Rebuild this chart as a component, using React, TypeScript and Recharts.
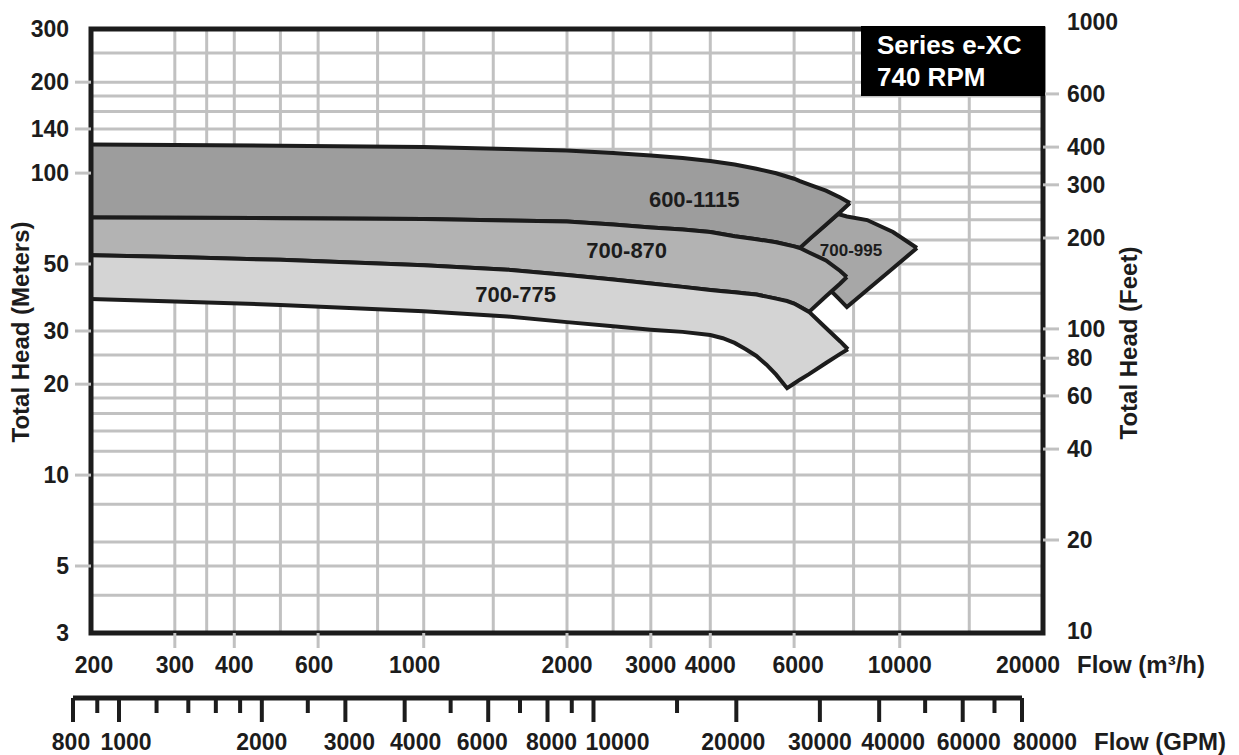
import React from "react";
import {
  Area,
  CartesianGrid,
  ComposedChart,
  Line,
  ReferenceArea,
  ReferenceDot,
  XAxis,
  YAxis,
} from "recharts";

const FONT = "'Liberation Sans', Arial, Helvetica, sans-serif";
const INK = "#1c1c1c";
const GRID = "#c1c1c1";
const M_TO_FT = 1 / 0.3048;

// axis ticks
const flowTicks = [200, 300, 400, 600, 1000, 2000, 3000, 4000, 6000, 10000, 20000];
const headTicksM = [3, 5, 10, 20, 30, 50, 100, 140, 200, 300];
const headTicksFt = [10, 20, 40, 60, 80, 100, 200, 300, 400, 600, 1000];
const gpmMajor = [800, 1000, 2000, 3000, 4000, 6000, 8000, 10000, 20000, 30000, 40000, 60000, 80000];
const gpmMinor = [900, 1200, 1400, 1600, 1800, 2500, 5000, 7000, 9000, 15000, 50000, 70000];

// grid lines
const gridFlow = [300, 350, 400, 500, 600, 800, 1000, 1400, 2000, 2500, 3000, 4000, 6000, 8000, 10000, 14000];
const gridHead = [4, 5, 6, 8, 10, 12, 14, 16, 18, 20, 25, 30, 40, 50, 60, 70, 80, 90, 100, 120, 140, 160, 180, 200, 250];

// pump bands: flow (m3/h), head lower / upper edge (m)
const band600_1115 = [
  { q: 200, lo: 71.3, hi: 124.4 },
  { q: 300, lo: 71.1, hi: 123.9 },
  { q: 500, lo: 70.9, hi: 123.2 },
  { q: 1000, lo: 70.5, hi: 122.0 },
  { q: 1500, lo: 69.7, hi: 120.2 },
  { q: 2000, lo: 69.1, hi: 118.8 },
  { q: 2500, lo: 67.6, hi: 116.6 },
  { q: 3000, lo: 66.0, hi: 114.4 },
  { q: 3500, lo: 65.0, hi: 112.2 },
  { q: 4000, lo: 63.8, hi: 109.6 },
  { q: 4500, lo: 61.8, hi: 106.7 },
  { q: 5000, lo: 60.4, hi: 103.3 },
  { q: 5500, lo: 59.0, hi: 99.9 },
  { q: 6000, lo: 57.2, hi: 95.8 },
  { q: 6170, lo: 56.5, hi: 94.1 },
  { q: 6500, lo: 60.9, hi: 91.3 },
  { q: 7000, lo: 67.5, hi: 87.5 },
  { q: 7500, lo: 74.3, hi: 83.0 },
  { q: 7860, lo: 79.6, hi: 79.6 },
];

const band700_870 = [
  { q: 200, lo: 53.5, hi: 71.3 },
  { q: 300, lo: 52.7, hi: 71.1 },
  { q: 500, lo: 51.6, hi: 70.9 },
  { q: 1000, lo: 49.5, hi: 70.5 },
  { q: 1500, lo: 47.9, hi: 69.7 },
  { q: 2000, lo: 46.0, hi: 69.1 },
  { q: 2500, lo: 44.4, hi: 67.6 },
  { q: 3000, lo: 43.1, hi: 66.0 },
  { q: 3500, lo: 42.0, hi: 65.0 },
  { q: 4000, lo: 41.0, hi: 63.8 },
  { q: 4500, lo: 40.3, hi: 61.8 },
  { q: 5000, lo: 39.6, hi: 60.4 },
  { q: 5500, lo: 38.4, hi: 59.0 },
  { q: 6000, lo: 37.0, hi: 57.2 },
  { q: 6170, lo: 36.1, hi: 56.5 },
  { q: 6450, lo: 34.7, hi: 54.6 },
  { q: 7000, lo: 39.1, hi: 51.4 },
  { q: 7500, lo: 43.1, hi: 47.4 },
  { q: 7745, lo: 45.3, hi: 45.3 },
];

const band700_775 = [
  { q: 200, lo: 38.3, hi: 53.5 },
  { q: 300, lo: 37.6, hi: 52.7 },
  { q: 500, lo: 36.6, hi: 51.6 },
  { q: 1000, lo: 34.9, hi: 49.5 },
  { q: 1500, lo: 33.5, hi: 47.9 },
  { q: 2000, lo: 32.1, hi: 46.0 },
  { q: 2500, lo: 31.1, hi: 44.4 },
  { q: 3000, lo: 30.3, hi: 43.1 },
  { q: 3500, lo: 29.8, hi: 42.0 },
  { q: 4000, lo: 29.1, hi: 41.0 },
  { q: 4250, lo: 28.4, hi: 40.6 },
  { q: 4500, lo: 27.4, hi: 40.3 },
  { q: 4750, lo: 26.1, hi: 39.9 },
  { q: 5000, lo: 24.8, hi: 39.6 },
  { q: 5250, lo: 23.2, hi: 39.0 },
  { q: 5500, lo: 21.5, hi: 38.4 },
  { q: 5800, lo: 19.4, hi: 37.7 },
  { q: 6000, lo: 20.1, hi: 37.0 },
  { q: 6170, lo: 20.7, hi: 36.1 },
  { q: 6450, lo: 21.6, hi: 34.7 },
  { q: 7000, lo: 23.5, hi: 30.7 },
  { q: 7500, lo: 25.2, hi: 27.7 },
  { q: 7785, lo: 26.1, hi: 26.1 },
];

const band700_995 = [
  { q: 6170, lo: 51.6, hi: 56.9 },
  { q: 7420, lo: 38.6, hi: 73.2 },
  { q: 7745, lo: 36.0, hi: 71.8 },
  { q: 8540, lo: 41.0, hi: 69.9 },
  { q: 9680, lo: 48.4, hi: 63.8 },
  { q: 10870, lo: 56.5, hi: 56.5 },
];

const bandLabels = [
  { name: "600-1115", q: 3700, h: 82.2, size: 22 },
  { name: "700-870", q: 2670, h: 55.4, size: 22 },
  { name: "700-775", q: 1560, h: 39.6, size: 22 },
  { name: "700-995", q: 7900, h: 55.8, size: 17 },
];

const gpmSpan = [
  { g: 800, v: 0.5 },
  { g: 80000, v: 0.5 },
];

// hand-placed label nudges seen in the original
const flowLabelShift: Record<number, number> = { 200: 3, 600: -4, 1000: -9, 6000: 4, 20000: -15 };
const ftLabelShift: Record<number, number> = { 1000: -5 };
const gpmLabelShift: Record<number, number> = {
  800: -2, 1000: 7, 3000: 4, 4000: 11, 6000: -6, 8000: 4, 10000: 24, 20000: -3, 40000: 14, 60000: 6, 80000: 23,
};

const range = (d: any) => [d.lo, d.hi];

const textProps = { fontFamily: FONT, fontWeight: 700, fill: INK };
const TICK_FONT = 23;

const FlowTick = (props: any) => {
  const { x, y, payload } = props;
  const v = payload.value;
  const edge = v === flowTicks[0] || v === flowTicks[flowTicks.length - 1];
  return (
    <g>
      {!edge && <line x1={x} x2={x} y1={y} y2={y + 15} stroke={GRID} strokeWidth={3} />}
      <text x={x + (flowLabelShift[v] ?? 0)} y={y + 40} textAnchor="middle" fontSize={TICK_FONT} {...textProps}>
        {v}
      </text>
    </g>
  );
};

const HeadTickM = (props: any) => {
  const { x, y, payload } = props;
  const v = payload.value;
  const edge = v === headTicksM[0] || v === headTicksM[headTicksM.length - 1];
  return (
    <g>
      {!edge && <line x1={x - 16} x2={x} y1={y} y2={y} stroke={GRID} strokeWidth={3} />}
      <text x={x - 22} y={y + 8} textAnchor="end" fontSize={TICK_FONT} {...textProps}>
        {v}
      </text>
    </g>
  );
};

const HeadTickFt = (props: any) => {
  const { x, y, payload } = props;
  const v = payload.value;
  const edge = v === headTicksFt[0] || v === headTicksFt[headTicksFt.length - 1];
  return (
    <g>
      {!edge && <line x1={x} x2={x + 16} y1={y} y2={y} stroke={GRID} strokeWidth={3} />}
      <text x={x + 24} y={y + 8 + (ftLabelShift[v] ?? 0)} textAnchor="start" fontSize={TICK_FONT} {...textProps}>
        {v}
      </text>
    </g>
  );
};

const GpmTick = (props: any) => {
  const { x, y, payload } = props;
  const v = payload.value;
  const major = gpmMajor.includes(v);
  return (
    <g>
      <line x1={x} x2={x} y1={y} y2={y + (major ? 24 : 15)} stroke={INK} strokeWidth={4} />
      {major && (
        <text x={x + (gpmLabelShift[v] ?? 0)} y={y + 52} textAnchor="middle" fontSize={TICK_FONT} {...textProps}>
          {v}
        </text>
      )}
    </g>
  );
};

const bandStyle = { stroke: INK, strokeWidth: 4, fillOpacity: 1, type: "linear" as const };

const App = () => {
  const gpmTicks = [...gpmMajor, ...gpmMinor].sort((a, b) => a - b);

  return (
    <div style={{ position: "absolute", left: 0, top: 0, width: 1239, height: 755, background: "#fff" }}>
      <div style={{ position: "absolute", left: 0, top: 0 }}>
        <ComposedChart width={1239} height={755} margin={{ top: 29, right: 0, bottom: 0, left: 0 }}>
          <CartesianGrid stroke={GRID} strokeWidth={3} horizontalValues={gridHead} verticalValues={gridFlow} />
          <XAxis
            dataKey="q"
            type="number"
            scale="log"
            domain={[200, 20000]}
            allowDataOverflow
            ticks={flowTicks}
            interval={0}
            height={122}
            axisLine={false}
            tickLine={false}
            tickSize={0}
            tickMargin={0}
            tick={<FlowTick />}
          />
          <YAxis
            type="number"
            scale="log"
            domain={[3, 300]}
            allowDataOverflow
            ticks={headTicksM}
            interval={0}
            width={91}
            axisLine={false}
            tickLine={false}
            tickSize={0}
            tickMargin={0}
            tick={<HeadTickM />}
          />
          <YAxis
            yAxisId="ft"
            orientation="right"
            type="number"
            scale="log"
            domain={[3 * M_TO_FT, 300 * M_TO_FT]}
            allowDataOverflow
            ticks={headTicksFt}
            interval={0}
            width={196}
            axisLine={false}
            tickLine={false}
            tickSize={0}
            tickMargin={0}
            tick={<HeadTickFt />}
          />
          <Area data={band700_995} dataKey={range} fill="#a7a7a7" {...bandStyle} dot={false} activeDot={false} isAnimationActive={false} />
          <Area data={band600_1115} dataKey={range} fill="#9d9d9d" {...bandStyle} dot={false} activeDot={false} isAnimationActive={false} />
          <Area data={band700_870} dataKey={range} fill="#b3b3b3" {...bandStyle} dot={false} activeDot={false} isAnimationActive={false} />
          <Area data={band700_775} dataKey={range} fill="#d4d4d4" {...bandStyle} dot={false} activeDot={false} isAnimationActive={false} />
          {bandLabels.map((l) => (
            <ReferenceDot
              key={l.name}
              x={l.q}
              y={l.h}
              r={0}
              fill="none"
              stroke="none"
              label={{ value: l.name, position: "center", fill: INK, fontSize: l.size, fontWeight: 700, fontFamily: FONT }}
            />
          ))}
          <ReferenceArea x1={200} x2={20000} y1={3} y2={300} fill="none" stroke={INK} strokeWidth={5} ifOverflow="visible" />
        </ComposedChart>
      </div>

      <div style={{ position: "absolute", left: 0, top: 0 }}>
        <ComposedChart width={1239} height={755} margin={{ top: 690, right: 217, bottom: 0, left: 73 }}>
          <XAxis
            dataKey="g"
            type="number"
            scale="log"
            domain={[800, 80000]}
            allowDataOverflow
            ticks={gpmTicks}
            interval={0}
            height={57}
            axisLine={{ stroke: INK, strokeWidth: 5 }}
            tickLine={false}
            tickSize={0}
            tickMargin={0}
            tick={<GpmTick />}
          />
          <YAxis hide domain={[0, 1]} />
          <Line data={gpmSpan} dataKey="v" stroke="none" dot={false} activeDot={false} isAnimationActive={false} />
        </ComposedChart>
      </div>

      <svg
        width={1239}
        height={755}
        style={{ position: "absolute", left: 0, top: 0, pointerEvents: "none" }}
        fontFamily={FONT}
        fontWeight={700}
      >
        <text transform="translate(29 332) rotate(-90)" textAnchor="middle" fontSize={24} fill={INK}>
          Total Head (Meters)
        </text>
        <text transform="translate(1137 343) rotate(-90)" textAnchor="middle" fontSize={24} fill={INK}>
          Total Head (Feet)
        </text>
        <text x={1077} y={673} fontSize={24} fill={INK}>
          Flow (m³/h)
        </text>
        <text x={1094} y={750} fontSize={24} fill={INK}>
          Flow (GPM)
        </text>
        <rect x={861} y={26} width={184} height={70} fill="#000" />
        <text x={877} y={54} fontSize={26} fill="#fff">
          Series e-XC
        </text>
        <text x={877} y={86} fontSize={26} fill="#fff">
          740 RPM
        </text>
      </svg>
    </div>
  );
};

export default App;
